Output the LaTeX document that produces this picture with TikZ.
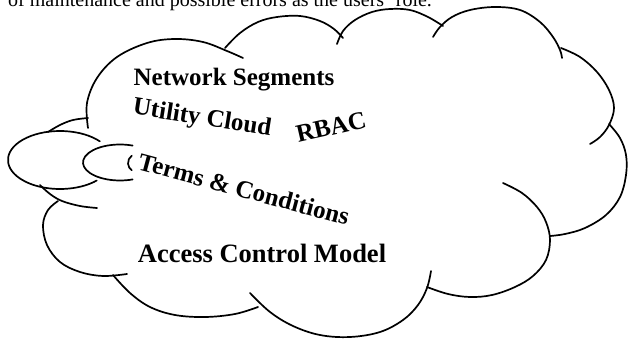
\documentclass[tikz,border=0pt]{standalone}
\usepackage{fontspec}
\setmainfont{Liberation Serif}
\begin{document}
\begin{tikzpicture}[x=1pt, y=-1pt,
        cloudarc/.style={line width=1.7pt, line cap=round},
        cloudtext/.style={font=\fontsize{25}{30}\selectfont\bfseries, inner sep=0pt}]
        \useasboundingbox (0,0) rectangle (628,339);

        % Cut-off line of the page above
        \begin{scope}
            \clip (0,0) rectangle (628,339);
            \node (pagetext) [anchor=base west, inner sep=0pt, font=\fontsize{20}{24}\selectfont] at (8,7) {of maintenance and possible errors as the users' role.};
        \end{scope}

        % Cloud outline
        \draw[cloudarc] plot[smooth, tension=0.6] coordinates {(88,128) (87,103) (97,78) (117,57) (147,43) (175,39) (203,42) (227,51) (243,58)};
        \draw[cloudarc] plot[smooth, tension=0.6] coordinates {(225,48) (240,33) (258,22) (277,17) (300,16) (320,21) (334,29) (343,38)};
        \draw[cloudarc] plot[smooth, tension=0.6] coordinates {(337,44) (343,31) (355,20) (372,12) (390,9) (410,10) (428,17) (443,26)};
        \draw[cloudarc] plot[smooth, tension=0.6] coordinates {(433,37) (440,27) (452,17) (470,10) (495,7) (520,10) (540,22) (553,37) (560,50) (562,58)};
        \draw[cloudarc] plot[smooth, tension=0.6] coordinates {(561,48) (580,57) (597,72) (609,90) (614,108) (609,125) (600,137) (590,144)};
        \draw[cloudarc] plot[smooth, tension=0.6] coordinates {(609,124) (620,138) (626,155) (626,175) (620,197) (606,215) (585,228) (565,234) (550,236)};
        \draw[cloudarc] plot[smooth, tension=0.6] coordinates {(503,183) (522,193) (537,207) (546,222) (550,240) (546,260) (533,276) (515,287) (492,295) (470,297) (448,294) (427,287)};
        \draw[cloudarc] plot[smooth, tension=0.6] coordinates {(431,271) (427,288) (418,305) (403,320) (380,332) (350,337) (320,335) (293,326) (270,312) (250,293)};
        \draw[cloudarc] plot[smooth, tension=0.6] coordinates {(258,307) (235,314) (205,317) (175,315) (150,307) (130,293) (113,275)};
        \draw[cloudarc] plot[smooth, tension=0.6] coordinates {(127,274) (103,276) (80,272) (60,262) (47,245) (43,225) (48,210) (58,201)};
        \draw[cloudarc] plot[smooth, tension=0.6] coordinates {(40,185) (50,194) (62,201) (80,206) (97,208)};
        \draw[cloudarc] plot[smooth, tension=0.6] coordinates {(48,132) (60,125) (73,120) (88,118)};

        % Bubbles
        \draw[cloudarc] (60,160) ++(-40:52 and 29) arc[start angle=-40, end angle=-315, x radius=52, y radius=29];
        \draw[cloudarc] (120,162.5) ++(-70:37 and 18) arc[start angle=-70, end angle=-290, x radius=37, y radius=18];
        \draw[cloudarc] (137,163) ++(-125:9 and 9) arc[start angle=-125, end angle=-235, radius=9];

        % Labels
        \node (segments) [cloudtext] at (234,80) {Network Segments};
        \node (utility) [cloudtext, rotate=-9] at (202,119) {Utility Cloud};
        \node (rbac) [cloudtext, rotate=13] at (331,127) {RBAC};
        \node (terms) [cloudtext, rotate=-15] at (244,189) {Terms \& Conditions};
        \node (acm) [cloudtext, font=\fontsize{26.5}{30}\selectfont\bfseries] at (262,253) {Access Control Model};
    \end{tikzpicture}
\end{document}
